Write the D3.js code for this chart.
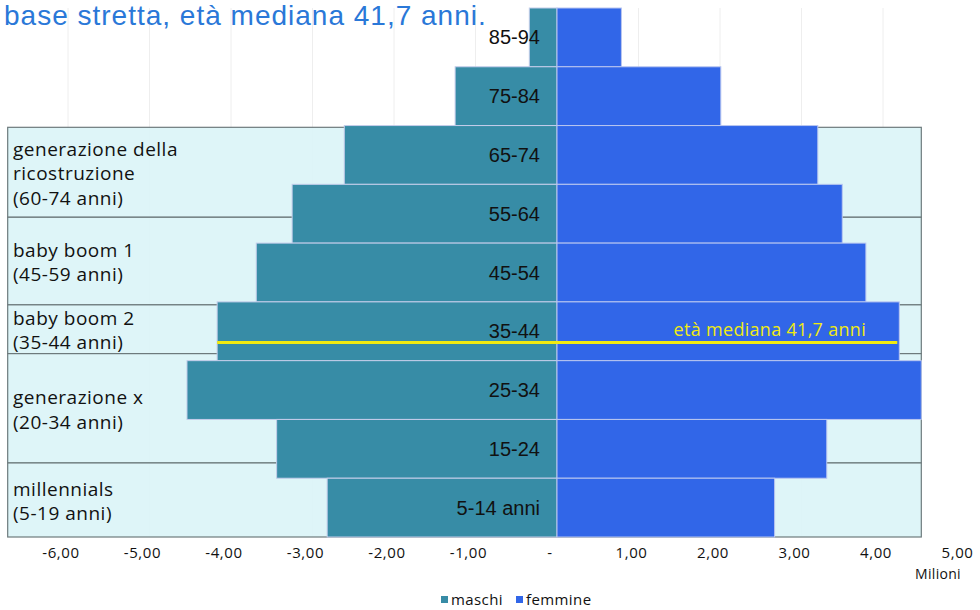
<!DOCTYPE html>
<html><head><meta charset="utf-8">
<script src="https://cdn.jsdelivr.net/npm/d3@7"></script>
<style>
html,body{margin:0;padding:0;background:#fff;}
svg{display:block;}
</style></head>
<body>
<script>
// ---- data ----
const categories = ["85-94","75-84","65-74","55-64","45-54","35-44","25-34","15-24","5-14 anni"];
const maschi   = [0.34, 1.25, 2.61, 3.25, 3.69, 4.17, 4.54, 3.44, 2.82]; // milioni
const femmine  = [0.79, 2.01, 3.20, 3.50, 3.79, 4.20, 4.47, 3.31, 2.67]; // milioni
const xTicks = [-6,-5,-4,-3,-2,-1,0,1,2,3,4,5];
const gridTicks = [-6,-5,-4,-3,-2,-1,1,2,3,4];
const generations = [
  {lines:["generazione della","ricostruzione","(60-74 anni)"], top:74.7, bottom:59.4},
  {lines:["baby boom 1","(45-59 anni)"], top:59.4, bottom:44.5},
  {lines:["baby boom 2","(35-44 anni)"], top:44.5, bottom:36.2},
  {lines:["generazione x","(20-34 anni)"], top:36.2, bottom:17.6},
  {lines:["millennials","(5-19 anni)"], top:17.6, bottom:5}
];
const medianAge = "41,7";
const medianLineAge = 38.1;   // drawn position of the median line (age axis)
const medianCategory = "35-44";
const title = "base stretta, età mediana 41,7 anni.";
const seriesNames = ["maschi","femmine"];

// ---- layout ----
const W = 980, H = 610;
const colM = "#378ca6", colF = "#3166e8";
const svg = d3.select("body").append("svg").attr("width",W).attr("height",H);

const x = d3.scaleLinear().domain([-6,5]).range([557-6*81.5, 557+5*81.5]);
const y = d3.scaleBand().domain(categories).range([8,537]).paddingInner(0).paddingOuter(0);
const age = d3.scaleLinear().domain([5,95]).range([537,8]);
const boxLeft = -6.74, boxRight = 4.47;
const sansW = "'Open Sans', 'Noto Sans', sans-serif";
const helv = "'Liberation Sans', Arial, sans-serif";

// gridlines
svg.append("g").selectAll("line").data(gridTicks).join("line")
  .attr("x1",d=>x(d)).attr("x2",d=>x(d)).attr("y1",8).attr("y2",537)
  .attr("stroke","#eeeeee").attr("stroke-width",1);

// generation boxes
const gb = svg.append("g");
gb.selectAll("rect").data(generations).join("rect")
  .attr("x",x(boxLeft)).attr("width",x(boxRight)-x(boxLeft))
  .attr("y",d=>age(d.top)).attr("height",d=>age(d.bottom)-age(d.top))
  .attr("fill","#dcf4f8").attr("fill-opacity",0.93)
  .attr("stroke","#6d7a7c").attr("stroke-width",1.2);

// bars
const rows = categories.map((c,i)=>({c, m:maschi[i], f:femmine[i]}));
svg.append("g").selectAll("rect").data(rows).join("rect")
  .attr("x",d=>x(-d.m)).attr("width",d=>x(0)-x(-d.m))
  .attr("y",d=>y(d.c)).attr("height",y.bandwidth())
  .attr("fill",colM).attr("stroke","#c4cdea").attr("stroke-width",1);
svg.append("g").selectAll("rect").data(rows).join("rect")
  .attr("x",x(0)).attr("width",d=>x(d.f)-x(0))
  .attr("y",d=>y(d.c)).attr("height",y.bandwidth())
  .attr("fill",colF).attr("stroke","#b9c6f0").attr("stroke-width",1);

// generation labels
generations.forEach(g=>{
  const cy = (age(g.top)+age(g.bottom))/2 + 1.5;
  const n = g.lines.length, lh = 24.5;
  const t = svg.append("text").attr("font-family",sansW)
    .attr("font-size",19).attr("letter-spacing",0.5).attr("fill","#111");
  g.lines.forEach((l,i)=>{
    t.append("tspan").attr("x",13)
     .attr("y", cy - (n-1)*lh/2 + i*lh + 6.5).text(l);
  });
});

// category labels
svg.append("g").selectAll("text").data(categories).join("text")
  .attr("x",x(0)-17).attr("y",d=>y(d)+y.bandwidth()/2+7)
  .attr("text-anchor","end")
  .attr("font-family",helv)
  .attr("font-size",20).attr("fill","#111").text(d=>d);

// median line
const mi = categories.indexOf(medianCategory);
svg.append("line")
  .attr("x1",x(-maschi[mi])).attr("x2",x(femmine[mi])-2)
  .attr("y1",age(medianLineAge)).attr("y2",age(medianLineAge))
  .attr("stroke","#f0ea10").attr("stroke-width",3);
svg.append("text")
  .attr("x",866).attr("y",age(medianLineAge)-6)
  .attr("text-anchor","end")
  .attr("font-family",sansW).attr("letter-spacing",0.3)
  .attr("font-size",18).attr("fill","#f0ea10")
  .text("età mediana " + medianAge + " anni");

// x axis labels
const fmt = v => v===0 ? "-" : (v<0?"-":"") + Math.abs(v).toFixed(2).replace(".",",");
svg.append("g").selectAll("text").data(xTicks).join("text")
  .attr("x",d=>x(d)-7).attr("y",558)
  .attr("text-anchor","middle")
  .attr("font-family",sansW).attr("letter-spacing",0.6)
  .attr("font-size",15).attr("fill","#111").text(fmt);
svg.append("text").attr("x",938).attr("y",579).attr("text-anchor","middle")
  .attr("font-family",sansW).attr("letter-spacing",0.3)
  .attr("font-size",14).attr("fill","#111").text("Milioni");

// legend
const leg = svg.append("g");
const legX = [441, 516], legCol = [colM, colF];
seriesNames.forEach((s,i)=>{
  leg.append("rect").attr("x",legX[i]).attr("y",596).attr("width",7).attr("height",7).attr("fill",legCol[i]);
  leg.append("text").attr("x",legX[i]+10).attr("y",605)
    .attr("font-family",sansW).attr("letter-spacing",0.4)
    .attr("font-size",15).attr("fill","#111").text(s);
});

// title
svg.append("text").attr("x",4).attr("y",25)
  .attr("font-family",helv).attr("letter-spacing",1)
  .attr("font-size",28).attr("fill","#2a78d8").text(title);
</script>
</body></html>
